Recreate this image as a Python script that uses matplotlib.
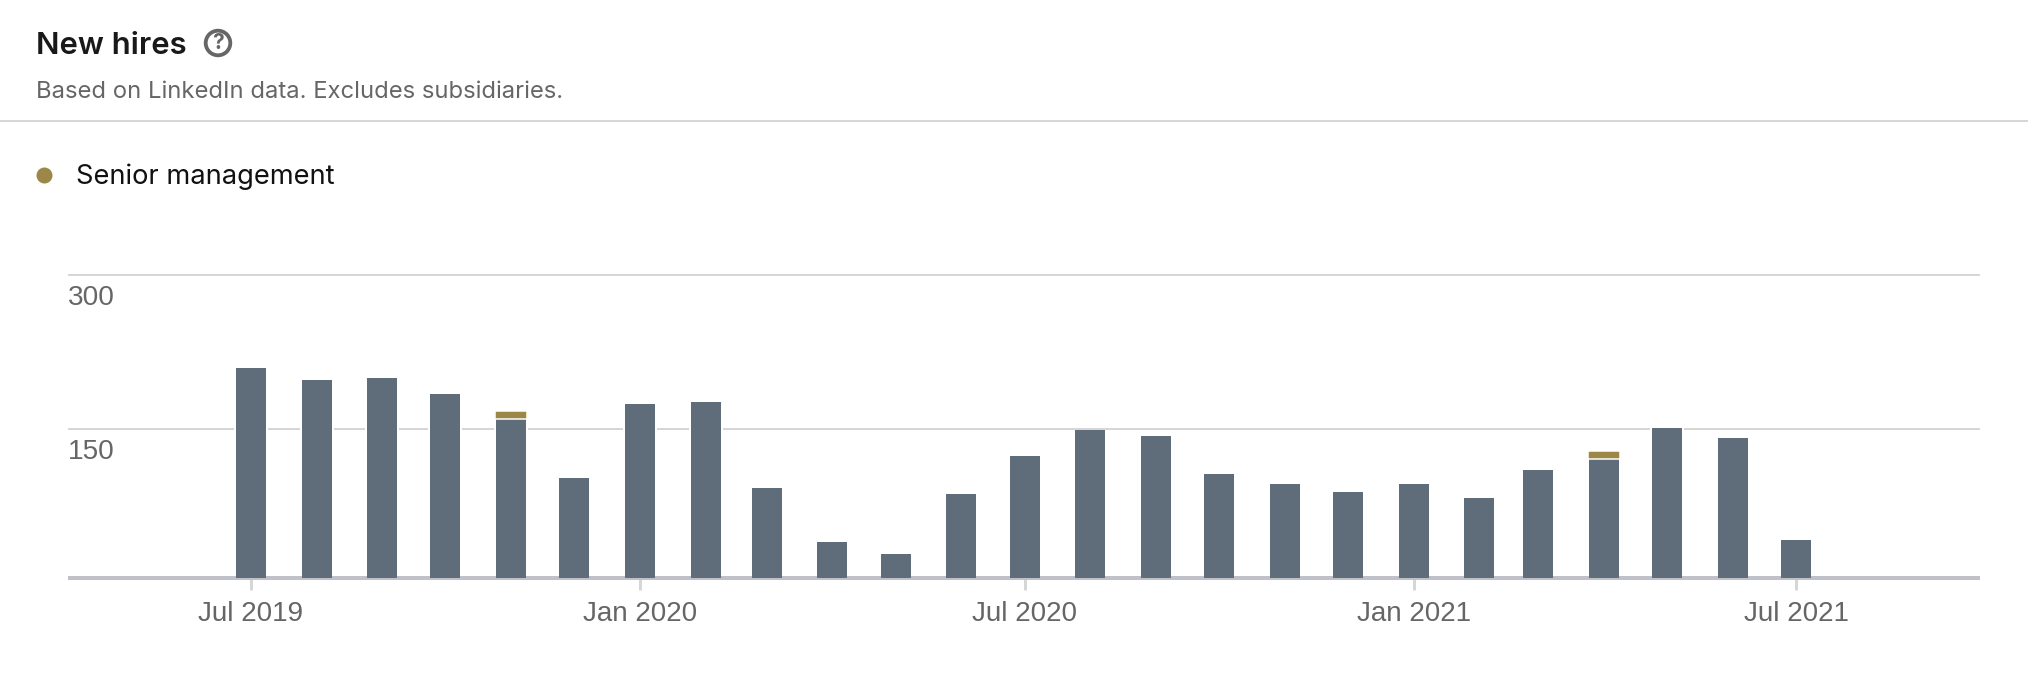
import numpy as np
import pandas as pd
import matplotlib
matplotlib.use("Agg")
import matplotlib.pyplot as plt
from matplotlib.lines import Line2D
from matplotlib.patches import Circle
from matplotlib.transforms import Affine2D, ScaledTranslation

months = pd.date_range("2019-07-01", "2021-07-01", freq="MS")
other_hires = [209, 198, 200, 184, 160, 101, 174, 176, 91, 36, 24, 85, 123,
               149, 143, 105, 95, 87, 95, 81, 109, 120, 151, 141, 38]
senior_management = [0, 0, 0, 0, 8, 0, 0, 0, 0, 0, 0, 0, 0,
                     0, 0, 0, 0, 0, 0, 0, 0, 8, 0, 0, 0]
y_ticks = [0, 150, 300]
y_tick_labels = ["", "150", "300"]
x_ticks = ["2019-07-01", "2020-01-01", "2020-07-01", "2021-01-01", "2021-07-01"]
x_tick_labels = ["Jul 2019", "Jan 2020", "Jul 2020", "Jan 2021", "Jul 2021"]
legend_label = "Senior management"
title = "New hires"
subtitle = "Based on LinkedIn data. Excludes subsidiaries."

W, H, DPI = 2028, 694, 100
px = 72 / DPI
BAR = "#5f6d7b"
GOLD = "#9c8748"
GRID = "#d6d6d6"
BASE = "#c0c0c8"
MUTED = "#666666"
UI = ["Inter", "Liberation Sans", "DejaVu Sans"]
CHART = ["Liberation Sans", "DejaVu Sans"]

fig = plt.figure(figsize=(W / DPI, H / DPI), dpi=DPI, facecolor="white")
page = Affine2D().scale(1, -1).translate(0, H)  # pixel coordinates, origin top left


def put(x, y, s, **kw):
    fig.text(x, y, s, transform=page, **kw)


ax = fig.add_axes([68 / W, (H - 578) / H, 1912 / W, 303 / H])
# The reference's gridlines are not quite evenly spaced: 149 px then 154 px.
y_data, y_pos = [0, 150, 300], [0, 149, 303]
ax.set_yscale("function", functions=(lambda v: np.interp(v, y_data, y_pos, left=-10, right=310),
                                     lambda p: np.interp(p, y_pos, y_data, left=-10, right=310)))
ax.set_ylim(0, 300)

px_per_day = 2.114
x0 = pd.Timestamp("2019-07-01")
ax.set_xlim(x0 - pd.Timedelta(days=183 / px_per_day), x0 + pd.Timedelta(days=1729 / px_per_day))
bar_w = 30 / px_per_day
halo_w = 34 / px_per_day

other = np.array(other_hires)
senior = np.array(senior_management)
ax.bar(months, other + senior, width=halo_w, color="white", linewidth=0, zorder=2)
ax.bar(months, other, width=bar_w, color=BAR, linewidth=0, zorder=4)
has = senior > 0
ax.bar(months[has], senior[has], bottom=other[has], width=bar_w + 1.5 / px_per_day, color=GOLD,
       edgecolor="white", linewidth=1.5 * px, zorder=5)

for s in ax.spines.values():
    s.set_visible(False)
ax.patch.set_visible(False)
ax.axhline(0, color=BASE, lw=4 * px, zorder=3, clip_on=False, solid_capstyle="butt")
ax.set_axisbelow(True)
ax.yaxis.grid(True, color=GRID, lw=2 * px, clip_on=False, solid_capstyle="butt")
ax.xaxis.grid(False)

ax.set_yticks(y_ticks, y_tick_labels)
ax.tick_params(axis="y", length=0, pad=0, labelsize=28 * px, labelcolor=MUTED)
for tick in ax.yaxis.get_major_ticks():
    tick.gridline.set_clip_on(False)
shift = ScaledTranslation(0, -10 / DPI, fig.dpi_scale_trans)
for lab in ax.get_yticklabels():
    lab.set_ha("left")
    lab.set_va("top")
    lab.set_family(CHART)
    lab.set_transform(lab.get_transform() + shift)

ax.set_xticks(pd.to_datetime(x_ticks), x_tick_labels)
ax.tick_params(axis="x", length=12 * px, width=3 * px, color=GRID, pad=11 * px,
               labelsize=27.7 * px, labelcolor=MUTED)
for lab in ax.get_xticklabels():
    lab.set_family(CHART)

# header
put(36, 45.5, title, fontsize=31 * px, fontweight="semibold", color="#191919",
    family=UI, va="center", ha="left")
fig.add_artist(Circle((218, 43), 12.3, transform=page, fill=False, edgecolor=MUTED, linewidth=3.8 * px))
put(218, 43, "?", fontsize=21 * px, fontweight="bold", color=MUTED, family=UI, va="center", ha="center")
put(36, 92, subtitle, fontsize=23.8 * px, color=MUTED, family=UI, va="center", ha="left")
fig.add_artist(Line2D([0, W], [121, 121], transform=page, color=GRID, lw=2 * px))

# legend
handle = Line2D([], [], linestyle="none", marker="o", markersize=16 * px, color=GOLD, markeredgewidth=0)
fig.legend([handle], [legend_label], loc="center left", bbox_to_anchor=(36 / W, (H - 177) / H),
           frameon=False, borderpad=0, borderaxespad=0, handlelength=0.6, handletextpad=0.85,
           prop={"family": UI, "size": 27.3 * px}, labelcolor="#111111")

fig.savefig("out.png", dpi=DPI, facecolor="white")
